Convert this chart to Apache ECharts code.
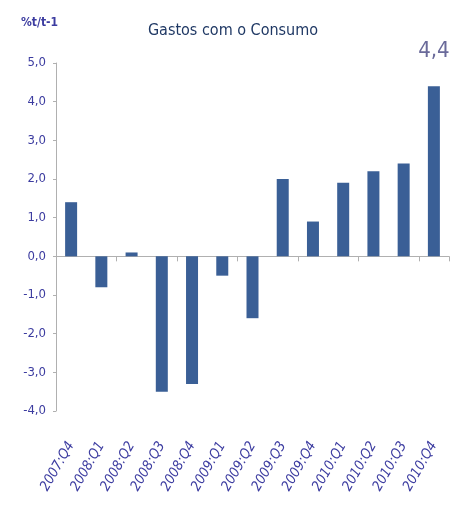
<!DOCTYPE html>
<html>
<head>
<meta charset="utf-8">
<script src="https://cdn.jsdelivr.net/npm/echarts@6/dist/echarts.min.js"></script>
<style>
  html, body { margin: 0; padding: 0; background: #fff; }
  #chart { width: 457px; height: 507px; }
</style>
</head>
<body>
<div id="chart"></div>
<script>
const quarters = ['2007:Q4', '2008:Q1', '2008:Q2', '2008:Q3', '2008:Q4', '2009:Q1', '2009:Q2',
  '2009:Q3', '2009:Q4', '2010:Q1', '2010:Q2', '2010:Q3', '2010:Q4'];
const growth = [1.4, -0.8, 0.1, -3.5, -3.3, -0.5, -1.6, 2.0, 0.9, 1.9, 2.2, 2.4, 4.4];
const yTicks = [-4, -3, -2, -1, 0, 1, 2, 3, 4, 5];

const font = '"DejaVu Sans Condensed", "Liberation Sans Narrow", sans-serif';
const fmt = v => v.toFixed(1).replace('.', ',');
const labelBlue = '#3c3ca0';

const chart = echarts.init(document.getElementById('chart'));
chart.setOption({
  animation: false,
  textStyle: { fontFamily: font },
  title: [
    {
      text: 'Gastos com o Consumo', left: 228, top: 18, textAlign: 'center',
      textStyle: { color: '#1f3864', fontSize: 16, fontWeight: 'normal', fontFamily: font }
    },
    {
      text: '%t/t-1', left: 16, top: 12,
      textStyle: { color: labelBlue, fontSize: 12, fontWeight: 'bold', fontFamily: font }
    }
  ],
  grid: { left: 56, right: 8, top: 63, bottom: 96 },
  xAxis: [
    {
      type: 'category', data: quarters,
      axisLine: { onZero: true, lineStyle: { color: '#b0b0b0' } },
      axisTick: { show: true, length: 5, inside: false, lineStyle: { color: '#b0b0b0' } },
      axisLabel: { show: false }
    },
    {
      type: 'category', data: quarters, position: 'bottom',
      axisLine: { show: false, onZero: false }, axisTick: { show: false },
      axisLabel: {
        rotate: 60, margin: 32, interval: 0, color: labelBlue, fontSize: 14,
        fontStyle: 'italic', fontFamily: font
      }
    }
  ],
  yAxis: {
    type: 'value', min: yTicks[0], max: yTicks[yTicks.length - 1], interval: 1,
    splitLine: { show: false },
    axisLine: { show: true, lineStyle: { color: '#b0b0b0' } },
    axisTick: { show: true, length: 3, lineStyle: { color: '#b0b0b0' } },
    axisLabel: { color: labelBlue, fontSize: 13, margin: 10, formatter: fmt }
  },
  series: [{
    type: 'bar', data: growth.map((v, i) => ({
      value: v,
      label: i === growth.length - 1
        ? { show: true, position: 'top', distance: 24, formatter: p => fmt(p.value),
            color: '#6a6a9a', fontSize: 22, fontFamily: font }
        : { show: false }
    })),
    barWidth: 12,
    itemStyle: { color: '#3a5f96' }
  }]
});
</script>
</body>
</html>
